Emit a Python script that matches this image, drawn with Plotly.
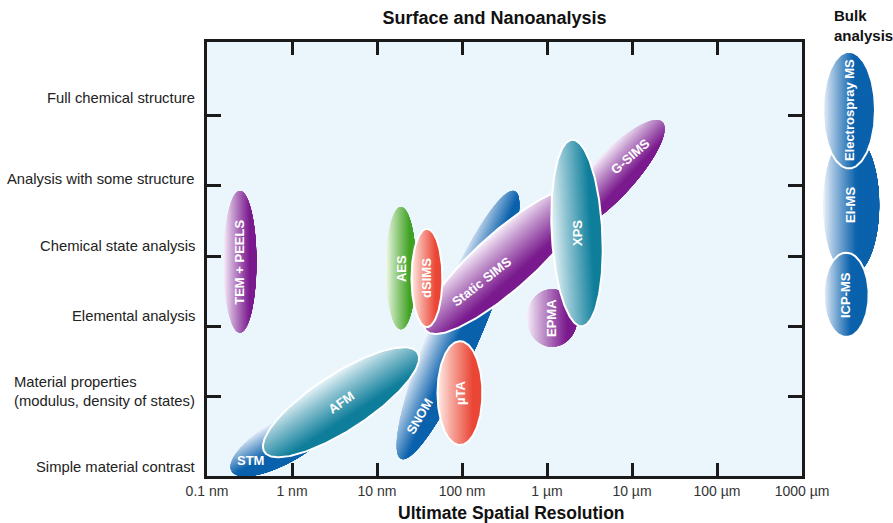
import numpy as np
import plotly.graph_objects as go

# ---- data -----------------------------------------------------------------
# analytical capability levels (bottom to top) and where their names sit
capability_names = [
    "Simple material contrast",
    "Material properties<br>(modulus, density of states)",
    "Elemental analysis",
    "Chemical state analysis",
    "Analysis with some structure",
    "Full chemical structure",
]
capability_label_pos = [0.0, 1.07, 2.15, 3.15, 4.10, 5.25]
capability_bounds = [1, 2, 3, 4, 5]

# spatial resolution axis (nm)
resolution_ticks_nm = [0.1, 1, 10, 100, 1e3, 1e4, 1e5, 1e6]
resolution_tick_text = ["0.1 nm", "1 nm", "10 nm", "100 nm", "1 µm", "10 µm", "100 µm", "1000 µm"]

# surface / nano techniques, listed back to front
techniques = ["TEM + PEELS", "STM", "SNOM", "AFM", "µTA", "G-SIMS",
              "Static SIMS", "AES", "dSIMS", "EPMA", "XPS"]
resolution_nm = [0.244, 0.83, 89.7, 3.77, 94.6, 5660, 325, 19.1, 38.7, 1146, 2254]
capability = [2.92, 0.38, 2.02, 0.92, 1.05, 4.13, 2.94, 2.83, 2.69, 2.12, 3.33]
extent_major = [1.01, 0.88, 2.07, 1.30, 0.74, 1.07, 1.51, 0.87, 0.70, 0.41, 1.33]
extent_minor = [0.235, 0.31, 0.36, 0.40, 0.32, 0.31, 0.41, 0.215, 0.22, 0.36, 0.36]
tilt_deg = [90, 30, 67, 33, 90, 47, 41.6, 90, 90, 90, 93]

# bulk techniques (no lateral resolution), back to front
bulk_techniques = ["EI-MS", "Electrospray MS", "ICP-MS"]
bulk_column = [0.03, 0.0, -0.04]
bulk_capability = [3.73, 5.08, 2.45]
bulk_major = [1.0, 0.83, 0.60]
bulk_minor = [0.40, 0.37, 0.32]

# ---- styling ----------------------------------------------------------------
FONT = "Liberation Sans, Arial, sans-serif"
# light edge, saturated edge, fraction of the width over which the shading runs
PALETTE = {
    "purple": ("#f6edf9", "#7a1a8e", 0.8),
    "blue": ("#e6eef9", "#0a61ac", 0.6),
    "teal": ("#e6f3f7", "#0e7e9b", 0.8),
    "green": ("#f0f9e8", "#40a224", 0.8),
    "red": ("#ffece6", "#ea4636", 0.8),
}
family = {
    "TEM + PEELS": "purple", "STM": "blue", "SNOM": "blue", "AFM": "teal",
    "µTA": "red", "G-SIMS": "purple", "Static SIMS": "purple", "AES": "green",
    "dSIMS": "red", "EPMA": "purple", "XPS": "teal",
    "EI-MS": "blue", "Electrospray MS": "blue", "ICP-MS": "blue",
}
outlined = {"AFM", "µTA", "dSIMS", "Static SIMS", "XPS", "Electrospray MS", "ICP-MS"}
label_shift = {"STM": -0.57, "SNOM": -1.41, "Static SIMS": -0.45, "G-SIMS": 0.40}
label_angle = {"STM": 0, "AFM": -35, "SNOM": -60, "Static SIMS": -38, "G-SIMS": -41}

W, H = 893, 523
ML, MR, MT, MB = 207, 0, 42, 47
PLOT_W, PLOT_H = W - ML - MR, H - MT - MB
MAIN_W = 595
X_RANGE = [-1, 6]
Y_RANGE = [-0.13, 6.05]
px_per_level = PLOT_H / (Y_RANGE[1] - Y_RANGE[0])
K = (MAIN_W / (X_RANGE[1] - X_RANGE[0])) / px_per_level  # decades -> iso units
BULK_LEFT, BULK_CENTER = 815, 849
x2_range = [-(BULK_CENTER - BULK_LEFT) / px_per_level, (W - BULK_CENTER) / px_per_level]


def hex_rgb(h):
    h = h.lstrip("#")
    return np.array([int(h[i:i + 2], 16) for i in (0, 2, 4)], float)


def mix(c0, c1, t):
    c = hex_rgb(c0) * (1 - t) + hex_rgb(c1) * t
    return "rgb(%d,%d,%d)" % tuple(np.round(c))


def ellipse_arc(cx, cy, a, b, theta, phi0, phi1, n=120):
    th = np.radians(theta)
    m = np.array([np.cos(th), np.sin(th)])
    nv = np.array([np.sin(th), -np.cos(th)])  # points toward the dark side
    phi = np.linspace(phi0, phi1, n)
    X = cx + a * np.cos(phi) * m[0] + b * np.sin(phi) * nv[0]
    Y = cy + a * np.cos(phi) * m[1] + b * np.sin(phi) * nv[1]
    return X, Y


fig = go.Figure()
annotations = []
STEPS = 30


def add_blob(name, cx_iso, cy, a, b, theta, to_x, xref, yref):
    light, dark, reach = PALETTE[family[name]]
    # stacked caps across the minor axis give a light-to-dark sweep
    for i in range(STEPS):
        s0 = -1 + 2 * i / STEPS
        p0 = np.arcsin(s0)
        X, Y = ellipse_arc(cx_iso, cy, a, b, theta, p0, np.pi - p0)
        t = min(1.0, (i / (STEPS - 1)) / reach) ** 0.9
        fig.add_trace(go.Scatter(
            x=to_x(X), y=Y, mode="lines", fill="toself",
            fillcolor=mix(light, dark, t), line=dict(width=0),
            hoverinfo="skip", showlegend=False, xaxis=xref, yaxis=yref))
    if name in outlined:
        X, Y = ellipse_arc(cx_iso, cy, a, b, theta, 0, 2 * np.pi, 200)
        fig.add_trace(go.Scatter(
            x=to_x(X), y=Y, mode="lines", line=dict(color="white", width=2),
            hoverinfo="skip", showlegend=False, xaxis=xref, yaxis=yref))
    th = np.radians(theta)
    sh = label_shift.get(name, 0.0)
    return cx_iso + sh * np.cos(th), cy + sh * np.sin(th)


for name, r, c, a, b, th in zip(techniques, resolution_nm, capability,
                                extent_major, extent_minor, tilt_deg):
    lx, ly = add_blob(name, np.log10(r) * K, c, a, b, th,
                      lambda X: 10 ** (X / K), "x", "y")
    annotations.append(dict(
        x=lx / K, y=ly, xref="x", yref="y", text=name, showarrow=False,
        textangle=label_angle.get(name, -90),
        font=dict(family=FONT, size=13, color="white", weight="bold")))

for name, col, c, a, b in zip(bulk_techniques, bulk_column, bulk_capability,
                              bulk_major, bulk_minor):
    lx, ly = add_blob(name, col, c, a, b, 90, lambda X: X, "x2", "y2")
    annotations.append(dict(
        x=lx, y=ly, xref="x2", yref="y2", text=name, showarrow=False,
        textangle=-90,
        font=dict(family=FONT, size=13, color="white", weight="bold")))

# capability labels to the left of the frame
for txt, yv in zip(capability_names, capability_label_pos):
    annotations.append(dict(
        x=0, y=yv, xref="paper", yref="y", xanchor="right", yanchor="middle",
        xshift=-10, align="left", text=txt, showarrow=False,
        font=dict(family=FONT, size=14.8, color="#222222")))

annotations.append(dict(
    x=(511 - ML) / PLOT_W, y=(MT + PLOT_H - 513) / PLOT_H, xref="paper", yref="paper",
    text="Ultimate Spatial Resolution", showarrow=False, yanchor="middle",
    font=dict(family=FONT, size=17.5, color="#111111", weight="bold")))
annotations.append(dict(
    x=(832 - ML) / PLOT_W, y=(MT + PLOT_H - 25) / PLOT_H, xref="paper", yref="paper",
    text="Bulk<br>analysis", showarrow=False, xanchor="left", yanchor="middle",
    align="left", font=dict(family=FONT, size=15, color="#111111", weight="bold")))

main_dom = [0, MAIN_W / PLOT_W]
frame = dict(showline=True, linewidth=2.5, linecolor="#1a1a1a", mirror="ticks",
             ticks="inside", tickwidth=2.5, tickcolor="#1a1a1a",
             showgrid=False, zeroline=False, automargin=False)

fig.update_layout(
    template="none",
    width=W, height=H, autosize=False,
    margin=dict(l=ML, r=MR, t=MT, b=MB, pad=0),
    paper_bgcolor="white", plot_bgcolor="rgba(0,0,0,0)",
    title=dict(text="Surface and Nanoanalysis", x=494.5 / W, xanchor="center",
               y=1 - 18 / H, yanchor="middle", automargin=False,
               font=dict(family=FONT, size=18, color="#111111", weight="bold")),
    xaxis=dict(domain=main_dom, type="log", range=X_RANGE, tickmode="array",
               tickvals=resolution_ticks_nm, ticktext=resolution_tick_text,
               ticklen=13, tickfont=dict(family=FONT, size=14, color="#333333"),
               anchor="y", **frame),
    yaxis=dict(domain=[0, 1], range=Y_RANGE, tickmode="array",
               tickvals=capability_bounds, showticklabels=False, ticklen=14,
               anchor="x", **frame),
    xaxis2=dict(domain=[(BULK_LEFT - ML) / PLOT_W, 1], range=x2_range,
                visible=False, anchor="y2", automargin=False),
    yaxis2=dict(domain=[0, 1], range=Y_RANGE, visible=False, anchor="x2",
                automargin=False),
    shapes=[dict(type="rect", xref="x domain", yref="y domain", x0=0, x1=1,
                 y0=0, y1=1, fillcolor="#eaf5fc", line=dict(width=0), layer="below")],
    annotations=annotations,
)

fig.write_html("out.html")
